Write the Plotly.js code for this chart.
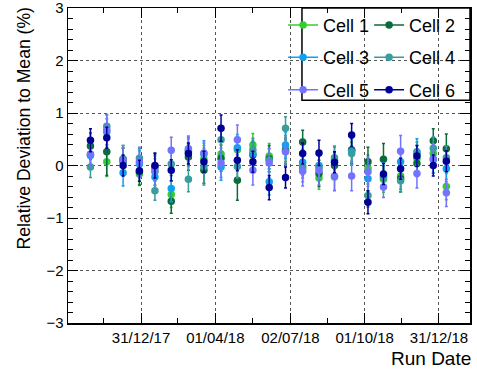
<!DOCTYPE html>
<html><head><meta charset="utf-8">
<script src="https://cdn.plot.ly/plotly-3.0.1.min.js"></script>
<style>html,body{margin:0;padding:0;background:#fff}#chart{width:477px;height:372px}</style>
</head><body><div id="chart"></div>
<script>
const runDates = ['2017-10-30','2017-11-19','2017-12-09','2017-12-29','2018-01-17','2018-02-06','2018-02-27','2018-03-18','2018-04-08','2018-04-28','2018-05-17','2018-06-06','2018-06-26','2018-07-17','2018-08-06','2018-08-25','2018-09-15','2018-10-05','2018-10-24','2018-11-14','2018-12-04','2018-12-24','2019-01-09'];

const cell1 = [0.20,0.07,0.13,-0.16,-0.12,-0.55,0.26,0.13,0.22,0.30,0.39,0.18,0.32,-0.06,-0.24,-0.22,0.30,-0.05,-0.26,-0.20,0.13,0.23,-0.40];
const cell2 = [0.37,0.26,0.08,-0.12,-0.03,-0.68,0.16,-0.09,0.14,-0.28,0.20,0.13,0.28,0.45,-0.15,0.00,0.29,0.07,0.12,-0.25,0.04,0.47,0.32];
const cell3 = [0.19,0.64,-0.14,0.03,-0.22,-0.44,0.29,0.22,-0.03,0.34,0.23,-0.31,0.39,0.06,0.00,0.10,0.26,-0.25,-0.20,0.07,0.26,0.11,-0.06];
const cell4 = [-0.03,0.75,0.12,0.14,-0.48,0.03,-0.26,-0.02,0.49,-0.02,0.30,0.10,0.71,-0.02,-0.04,0.15,0.23,-0.57,-0.23,-0.29,0.23,0.33,0.15];
const cell5 = [0.22,0.68,0.10,0.07,-0.10,0.29,0.32,0.24,0.05,0.49,-0.09,0.05,0.26,-0.11,-0.09,-0.20,-0.20,-0.12,-0.41,0.27,-0.15,0.13,-0.52];
const cell6 = [0.48,0.53,0.00,-0.10,0.00,-0.09,0.23,0.07,0.71,0.10,0.07,-0.42,-0.23,0.23,0.24,0.06,0.58,-0.70,-0.16,-0.06,0.18,0.00,0.08];

const err1 = [0.25,0.28,0.25,0.22,0.25,0.25,0.25,0.25,0.25,0.25,0.22,0.24,0.25,0.25,0.21,0.25,0.25,0.25,0.25,0.25,0.25,0.25,0.25];
const err2 = [0.25,0.45,0.25,0.25,0.25,0.23,0.25,0.25,0.25,0.38,0.25,0.25,0.25,0.22,0.25,0.25,0.25,0.28,0.30,0.25,0.25,0.23,0.28];
const err3 = [0.25,0.25,0.25,0.25,0.25,0.25,0.25,0.25,0.25,0.25,0.25,0.25,0.25,0.25,0.25,0.25,0.25,0.25,0.25,0.25,0.25,0.25,0.25];
const err4 = [0.20,0.22,0.22,0.18,0.18,0.22,0.24,0.35,0.22,0.22,0.22,0.22,0.22,0.22,0.22,0.22,0.22,0.22,0.22,0.22,0.22,0.22,0.22];
const err5 = [0.25,0.28,0.28,0.28,0.28,0.25,0.24,0.19,0.28,0.28,0.28,0.28,0.28,0.28,0.28,0.28,0.28,0.28,0.20,0.30,0.28,0.28,0.26];
const err6 = [0.22,0.20,0.20,0.20,0.24,0.20,0.20,0.20,0.25,0.20,0.20,0.23,0.20,0.20,0.24,0.20,0.22,0.22,0.20,0.20,0.20,0.20,0.20];

const seriesNames = ['Cell 1','Cell 2','Cell 3','Cell 4','Cell 5','Cell 6'];
const seriesColors = ['#33cc33','#0b6b3a','#11a0f0','#3a9c9c','#7373ff','#000096'];

const tickDates = ['2017-12-31','2018-04-01','2018-07-02','2018-10-01','2018-12-31'];
const tickLabels = ['31/12/17','01/04/18','02/07/18','01/10/18','31/12/18'];
const minorTickDates = ['2017-11-15','2018-02-14','2018-05-17','2018-08-16','2018-11-15'];
const xRange = ['2017-10-02 12:00','2019-02-07'];
const yTicks = [-3,-2,-1,0,1,2,3];
const xTitle = 'Run Date';
const yTitle = 'Relative Deviation to Mean (%)';

const values = [cell1,cell2,cell3,cell4,cell5,cell6];
const errors = [err1,err2,err3,err4,err5,err6];

const FONT = 'Liberation Sans, Arial, Helvetica, sans-serif';
const traces = [];
values.forEach((v,i)=>{
  traces.push({
    type:'scatter', mode:'markers', x:runDates, y:v, name:seriesNames[i],
    showlegend:false,
    marker:{color:seriesColors[i], size:7.5},
    error_y:{type:'data', array:errors[i], visible:true, color:seriesColors[i], thickness:1.5, width:1.5}
  });
});
// legend entries (line + marker symbol, ROOT "lp" style)
values.forEach((v,i)=>{
  traces.push({
    type:'scatter', mode:'lines+markers', x:[null], y:[null], name:seriesNames[i],
    legend: (i%2===0)?'legend':'legend2', legendgroup:'g'+i,
    line:{color:seriesColors[i], width:1.5}, marker:{color:seriesColors[i], size:7.5}
  });
});

const legendCommon = {
  yanchor:'top', y:1.004, bgcolor:'rgba(0,0,0,0)', borderwidth:0,
  font:{family:FONT, size:18, color:'#000'}, tracegroupgap:6, itemwidth:30
};

const layout = {
  width:477, height:372,
  margin:{l:68, r:7, t:8, b:49},
  paper_bgcolor:'#fff', plot_bgcolor:'#fff',
  font:{family:FONT, color:'#000'},
  xaxis:{
    type:'date', range:xRange, tickmode:'array', tickvals:tickDates, ticktext:tickLabels,
    ticks:'inside', ticklen:10, tickwidth:1, tickcolor:'#000',
    minor:{tickvals:minorTickDates, ticks:'inside', ticklen:5, tickcolor:'#000', showgrid:false},
    showline:true, linecolor:'#000', linewidth:1.5, mirror:'ticks',
    showgrid:true, gridcolor:'#555', griddash:'dot', gridwidth:1,
    zeroline:false, ticklabeloverflow:'allow', tickfont:{family:FONT, size:15, color:'#000'}
  },
  yaxis:{
    range:[-3,3], tickmode:'array', tickvals:yTicks,
    ticks:'inside', ticklen:10, tickwidth:1, tickcolor:'#000',
    minor:{dtick:0.2, ticks:'inside', ticklen:5, tickcolor:'#000', showgrid:false},
    showline:true, linecolor:'#000', linewidth:1.5, mirror:'ticks',
    showgrid:true, gridcolor:'#555', griddash:'dot', gridwidth:1,
    zeroline:false, ticklabeloverflow:'allow', tickfont:{family:FONT, size:15, color:'#000'}
  },
  legend: Object.assign({}, legendCommon, {x:0.535, xanchor:'left'}),
  legend2: Object.assign({}, legendCommon, {x:0.749, xanchor:'left'}),
  shapes:[{type:'rect', xref:'paper', yref:'paper', x0:0.582, x1:1.0, y0:0.707, y1:1.0, line:{color:'#000', width:1.5}, fillcolor:'rgba(0,0,0,0)'}],
  annotations:[
    {text:xTitle, xref:'paper', yref:'paper', x:1.007, y:-0.113, xanchor:'right', yanchor:'middle', showarrow:false, font:{family:FONT, size:19, color:'#000'}},
    {text:yTitle, xref:'paper', yref:'paper', x:-0.109, y:1.01, xanchor:'center', yanchor:'top', textangle:-90, showarrow:false, font:{family:FONT, size:17.6, color:'#000'}}
  ]
};

Plotly.newPlot('chart', traces, layout, {staticPlot:true, displayModeBar:false});
</script></body></html>
